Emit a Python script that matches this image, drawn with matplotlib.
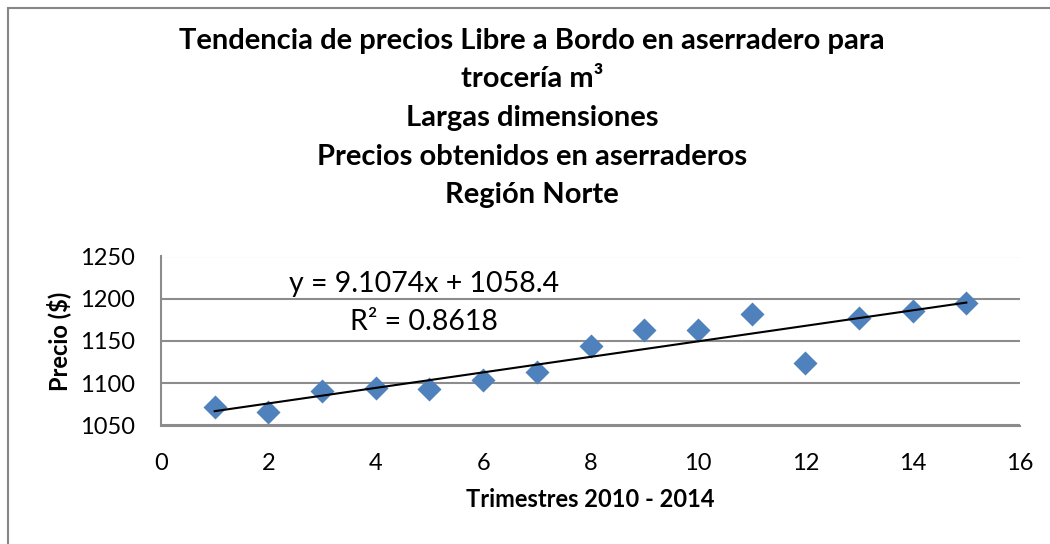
import numpy as np
import matplotlib
matplotlib.use('agg')
import matplotlib.pyplot as plt
from matplotlib.patches import Rectangle

# quarterly prices
trimestre = [1, 2, 3, 4, 5, 6, 7, 8, 9, 10, 11, 12, 13, 14, 15]
precio = [1071.7, 1065.4, 1090.4, 1094.8, 1093.6, 1104.3, 1113.0, 1144.6,
          1163.6, 1163.0, 1181.5, 1124.0, 1177.0, 1186.0, 1195.3]
x_ticks = [0, 2, 4, 6, 8, 10, 12, 14, 16]
y_ticks = [1050, 1100, 1150, 1200, 1250]

titulo = ("Tendencia de precios Libre a Bordo en aserradero para\n"
          "trocería m³\nLargas dimensiones\n"
          "Precios obtenidos en aserraderos\nRegión Norte")
ecuacion = "y = 9.1074x + 1058.4"
r2_txt = "R² = 0.8618"

plt.rcParams['font.family'] = ['Lato', 'DejaVu Sans']

fig = plt.figure(figsize=(10.5, 5.44), dpi=100)
W, H = 1050, 544
ax = fig.add_axes([161 / W, 1 - 425.5 / H, (1020 - 161) / W, (425.5 - 256.5) / H])

# outer chart border
fig.patches.append(Rectangle((7.5 / W, -0.05), 1.2, 1 - 7.5 / H + 0.05,
                             transform=fig.transFigure, fill=False,
                             edgecolor='#868686', linewidth=1.5))

ax.scatter(trimestre, precio, marker='D', s=150, color='#4F81BD', zorder=3,
           linewidths=0)

# linear trend line
coef = np.polyfit(trimestre, precio, 1)
xt = np.array([trimestre[0], trimestre[-1]])
ax.plot(xt, np.polyval(coef, xt), color='black', linewidth=1.5, zorder=4)

ax.set_xlim(0, 16)
ax.set_ylim(1050, 1250)
ax.set_xticks(x_ticks)
ax.set_yticks(y_ticks)
ax.grid(axis='y', color='#8C8C8C', linewidth=1.5)
ax.set_axisbelow(True)
for s in ['top', 'right']:
    ax.spines[s].set_visible(False)
for s in ['left', 'bottom']:
    ax.spines[s].set_color('#8C8C8C')
    ax.spines[s].set_linewidth(1.5)
ax.tick_params(length=0, labelsize=17, colors='black')
ax.tick_params(axis='x', pad=20)
ax.tick_params(axis='y', pad=19)

ax.set_xlabel("Trimestres 2010 - 2014", fontsize=17, fontweight='bold', labelpad=10)
ax.set_ylabel("Precio ($)", fontsize=17, fontweight='bold', labelpad=6)

ax.text(424 / W, 1 - 284 / H, ecuacion, transform=fig.transFigure,
        ha='center', va='center', fontsize=20.5)
ax.text(424 / W, 1 - 322 / H, r2_txt, transform=fig.transFigure,
        ha='center', va='center', fontsize=20.5)

fig.text(532 / W, 1 - 118 / H, titulo, ha='center', va='center',
         fontsize=21, fontweight='bold', linespacing=1.6)

fig.savefig('out.png', dpi=100)
